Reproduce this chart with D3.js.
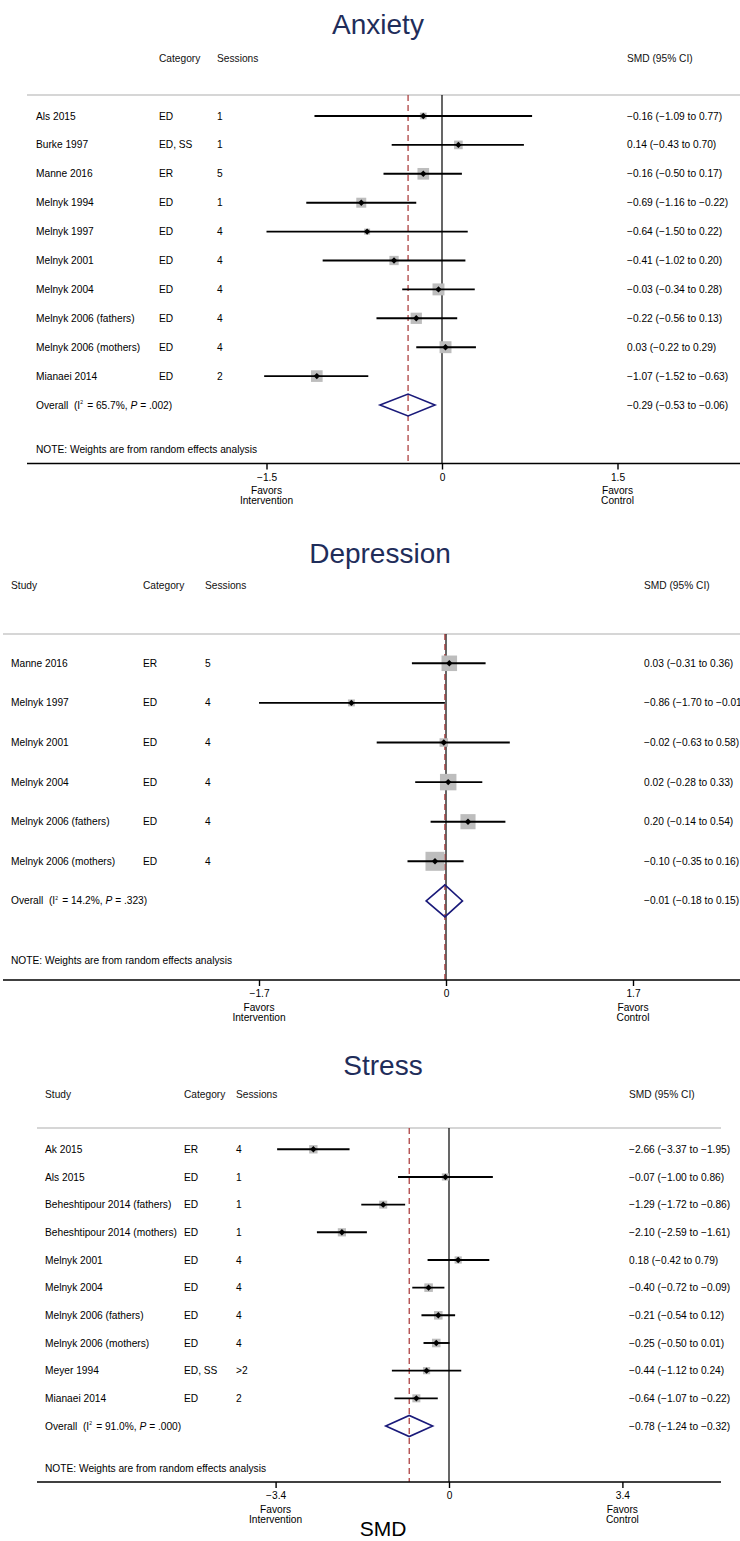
<!DOCTYPE html>
<html><head><meta charset="utf-8">
<script src="https://cdn.jsdelivr.net/npm/d3@7"></script>
<style>
body{margin:0;background:#fff}
svg{display:block}
text{font-family:"Liberation Sans",Arial,Helvetica,sans-serif}
</style>
</head><body>
<svg id="chart" width="740" height="1541"></svg>
<script>
// ---------- Anxiety ----------
const anxStudies = ["Als 2015","Burke 1997","Manne 2016","Melnyk 1994","Melnyk 1997","Melnyk 2001","Melnyk 2004","Melnyk 2006 (fathers)","Melnyk 2006 (mothers)","Mianaei 2014"];
const anxCategory = ["ED","ED, SS","ER","ED","ED","ED","ED","ED","ED","ED"];
const anxSessions = ["1","1","5","1","4","4","4","4","4","2"];
const anxSMD = [-0.16, 0.14, -0.16, -0.69, -0.64, -0.41, -0.03, -0.22, 0.03, -1.07];
const anxLow = [-1.09, -0.43, -0.50, -1.16, -1.50, -1.02, -0.34, -0.56, -0.22, -1.52];
const anxHigh = [0.77, 0.70, 0.17, -0.22, 0.22, 0.20, 0.28, 0.13, 0.29, -0.63];
const anxWeight = [4.4, 7.3, 13.2, 9.7, 3.5, 8.4, 13.9, 12.4, 13.9, 13.2];
const anxOverall = [-0.29, -0.53, -0.06];
const anxHet = ["65.7%", ".002"];
const anxTicks = [-1.5, 0, 1.5];

// ---------- Depression ----------
const depStudies = ["Manne 2016","Melnyk 1997","Melnyk 2001","Melnyk 2004","Melnyk 2006 (fathers)","Melnyk 2006 (mothers)"];
const depCategory = ["ER","ED","ED","ED","ED","ED"];
const depSessions = ["5","4","4","4","4","4"];
const depSMD = [0.03, -0.86, -0.02, 0.02, 0.20, -0.10];
const depLow = [-0.31, -1.70, -0.63, -0.28, -0.14, -0.35];
const depHigh = [0.36, -0.01, 0.58, 0.33, 0.54, 0.16];
const depWeight = [20, 4, 6, 22.5, 19, 30];
const depOverall = [-0.01, -0.18, 0.15];
const depHet = ["14.2%", ".323"];
const depTicks = [-1.7, 0, 1.7];

// ---------- Stress ----------
const strStudies = ["Ak 2015","Als 2015","Beheshtipour 2014 (fathers)","Beheshtipour 2014 (mothers)","Melnyk 2001","Melnyk 2004","Melnyk 2006 (fathers)","Melnyk 2006 (mothers)","Meyer 1994","Mianaei 2014"];
const strCategory = ["ER","ED","ED","ED","ED","ED","ED","ED","ED, SS","ED"];
const strSessions = ["4","1","1","1","4","4","4","4",">2","2"];
const strSMD = [-2.66, -0.07, -1.29, -2.10, 0.18, -0.40, -0.21, -0.25, -0.44, -0.64];
const strLow = [-3.37, -1.00, -1.72, -2.59, -0.42, -0.72, -0.54, -0.50, -1.12, -1.07];
const strHigh = [-1.95, 0.86, -0.86, -1.61, 0.79, -0.09, 0.12, 0.01, 0.24, -0.22];
const strWeight = [11.5, 8.5, 10.5, 11, 8.5, 12, 12, 12, 8.5, 10.5];
const strOverall = [-0.78, -1.24, -0.32];
const strHet = ["91.0%", ".000"];
const strTicks = [-3.4, 0, 3.4];

const svg = d3.select("#chart");
const fmt2 = d3.format(".2f");
const fmtTick = v => v === 0 ? "0" : d3.format(".1f")(v);
const FS = 10.2;

function drawPanel(p) {
  const g = svg.append("g");
  const x = d3.scaleLinear().domain([p.ticks[0], p.ticks[2]]).range(p.tickRange);
  const n = p.studies.length;
  const y = d3.scaleLinear().domain([0, 1]).range([p.rowY0, p.rowY0 + p.rowStep]);
  const side = d3.scaleSqrt().domain([0, 1]).range([0, p.boxC]);

  // title
  g.append("text").attr("x", p.titleX).attr("y", p.titleY)
    .attr("text-anchor", "middle").attr("font-size", 28).attr("fill", "#1f2d5a")
    .text(p.title);

  // headers
  const hdr = g.append("g").attr("font-size", FS).attr("fill", "#111");
  if (p.showStudy) hdr.append("text").attr("x", p.cols[0]).attr("y", p.headerY).attr("dy", "0.35em").text("Study");
  hdr.append("text").attr("x", p.cols[1]).attr("y", p.headerY).attr("dy", "0.35em").text("Category");
  hdr.append("text").attr("x", p.cols[2]).attr("y", p.headerY).attr("dy", "0.35em").text("Sessions");
  hdr.append("text").attr("x", p.cols[3]).attr("y", p.headerY).attr("dy", "0.35em").text("SMD (95% CI)");

  // gray separator
  g.append("line").attr("x1", p.plotX[0]).attr("x2", p.plotX[1])
    .attr("y1", p.lineY).attr("y2", p.lineY).attr("stroke", "#c8c8c8").attr("stroke-width", 1.5);

  // zero line
  g.append("line").attr("x1", x(0)).attr("x2", x(0)).attr("y1", p.lineY).attr("y2", p.axisY)
    .attr("stroke", "#000").attr("stroke-width", 1.2);
  // overall dashed line
  g.append("line").attr("x1", x(p.overall[0])).attr("x2", x(p.overall[0]))
    .attr("y1", p.lineY).attr("y2", p.axisY)
    .attr("stroke", "#a83232").attr("stroke-width", 1.2).attr("stroke-dasharray", "6,4");

  // rows
  const idx = d3.range(n);
  const rows = g.append("g");
  rows.selectAll(".st").data(idx).join("text")
    .attr("x", p.cols[0]).attr("y", i => y(i)).attr("dy", "0.35em").attr("font-size", FS)
    .text(i => p.studies[i]);
  rows.selectAll(".ct").data(idx).join("text")
    .attr("x", p.cols[1]).attr("y", i => y(i)).attr("dy", "0.35em").attr("font-size", FS)
    .text(i => p.cats[i]);
  rows.selectAll(".ss").data(idx).join("text")
    .attr("x", p.cols[2]).attr("y", i => y(i)).attr("dy", "0.35em").attr("font-size", FS)
    .text(i => p.sess[i]);
  rows.selectAll(".sm").data(idx).join("text")
    .attr("x", p.cols[3]).attr("y", i => y(i)).attr("dy", "0.35em").attr("font-size", FS)
    .text(i => `${fmt2(p.smd[i])} (${fmt2(p.lo[i])} to ${fmt2(p.hi[i])})`);

  // boxes
  rows.selectAll("rect.box").data(idx).join("rect").attr("class", "box")
    .attr("x", i => x(p.smd[i]) - side(p.w[i]) / 2)
    .attr("y", i => y(i) - side(p.w[i]) / 2)
    .attr("width", i => side(p.w[i])).attr("height", i => side(p.w[i]))
    .attr("fill", "#bdbdbd");
  // CI lines
  rows.selectAll("line.ci").data(idx).join("line").attr("class", "ci")
    .attr("x1", i => x(p.lo[i])).attr("x2", i => x(p.hi[i]))
    .attr("y1", i => y(i)).attr("y2", i => y(i))
    .attr("stroke", "#000").attr("stroke-width", 1.9);
  // point markers
  rows.selectAll("path.pt").data(idx).join("path").attr("class", "pt")
    .attr("d", i => {
      const cx = x(p.smd[i]), cy = y(i), r = 3.2;
      return `M${cx},${cy - r}L${cx + r},${cy}L${cx},${cy + r}L${cx - r},${cy}Z`;
    }).attr("fill", "#000");

  // overall row
  const oy = y(n);
  const ot = g.append("text").attr("x", p.cols[0]).attr("y", oy).attr("dy", "0.35em")
    .attr("font-size", FS).style("white-space", "pre");
  ot.append("tspan").text("Overall  (I");
  ot.append("tspan").attr("font-size", 5).attr("dy", "-0.9em").text("2");
  ot.append("tspan").attr("dy", "0.9em").attr("font-size", 5).text(" ");
  ot.append("tspan").text(` = ${p.het[0]}, `);
  ot.append("tspan").attr("font-style", "italic").text("P");
  ot.append("tspan").text(` = ${p.het[1]})`);
  g.append("text").attr("x", p.cols[3]).attr("y", oy).attr("dy", "0.35em").attr("font-size", FS)
    .text(`${fmt2(p.overall[0])} (${fmt2(p.overall[1])} to ${fmt2(p.overall[2])})`);
  const dh = p.diaH;
  g.append("path")
    .attr("d", `M${x(p.overall[1])},${oy}L${x(p.overall[0])},${oy - dh}L${x(p.overall[2])},${oy}L${x(p.overall[0])},${oy + dh}Z`)
    .attr("fill", "none").attr("stroke", "#1a1a7a").attr("stroke-width", 1.6);

  // note
  g.append("text").attr("x", p.cols[0]).attr("y", p.noteY).attr("dy", "0.35em").attr("font-size", FS)
    .text("NOTE: Weights are from random effects analysis");

  // axis
  g.append("line").attr("x1", p.plotX[0]).attr("x2", p.plotX[1])
    .attr("y1", p.axisY).attr("y2", p.axisY).attr("stroke", "#000").attr("stroke-width", 1.4);
  const ax = g.append("g").attr("transform", `translate(0,${p.axisY})`)
    .call(d3.axisBottom(x).tickValues(p.ticks).tickSize(6).tickPadding(4).tickFormat(fmtTick));
  ax.select(".domain").remove();
  ax.selectAll(".tick line").attr("stroke", "#000").attr("stroke-width", 1.4);
  ax.selectAll(".tick text").attr("font-size", FS).attr("fill", "#000")
    .attr("font-family", "Liberation Sans, Arial, sans-serif");
  const sub = [[p.ticks[0], "Favors", "Intervention"], [p.ticks[2], "Favors", "Control"]];
  sub.forEach(s => {
    g.append("text").attr("x", x(s[0])).attr("y", p.axisY + 27).attr("dy", "0.35em")
      .attr("text-anchor", "middle").attr("font-size", FS).text(s[1]);
    g.append("text").attr("x", x(s[0])).attr("y", p.axisY + 37).attr("dy", "0.35em")
      .attr("text-anchor", "middle").attr("font-size", FS).text(s[2]);
  });
}

drawPanel({
  title: "Anxiety", titleX: 378, titleY: 34, showStudy: false, headerY: 58, lineY: 95,
  plotX: [27, 740], rowY0: 116, rowStep: 28.9, noteY: 449, axisY: 463.5,
  ticks: anxTicks, tickRange: [266.5, 617.5], cols: [36, 159, 217, 627],
  studies: anxStudies, cats: anxCategory, sess: anxSessions, smd: anxSMD, lo: anxLow, hi: anxHigh,
  w: anxWeight, overall: anxOverall, het: anxHet, boxC: 3.2, diaH: 11
});
drawPanel({
  title: "Depression", titleX: 380, titleY: 563, showStudy: true, headerY: 585, lineY: 634,
  plotX: [3, 740], rowY0: 663.3, rowStep: 39.6, noteY: 960, axisY: 980,
  ticks: depTicks, tickRange: [259, 633], cols: [11, 143, 205, 644],
  studies: depStudies, cats: depCategory, sess: depSessions, smd: depSMD, lo: depLow, hi: depHigh,
  w: depWeight, overall: depOverall, het: depHet, boxC: 3.47, diaH: 16
});
drawPanel({
  title: "Stress", titleX: 383, titleY: 1075, showStudy: true, headerY: 1094, lineY: 1128,
  plotX: [37, 721], rowY0: 1149.3, rowStep: 27.67, noteY: 1468, axisY: 1482,
  ticks: strTicks, tickRange: [275.6, 622.4], cols: [45, 184, 236, 629],
  studies: strStudies, cats: strCategory, sess: strSessions, smd: strSMD, lo: strLow, hi: strHigh,
  w: strWeight, overall: strOverall, het: strHet, boxC: 2.47, diaH: 10.5
});

svg.append("text").attr("x", 383).attr("y", 1536).attr("text-anchor", "middle")
  .attr("font-size", 21).attr("fill", "#000").text("SMD");
</script>
</body></html>
